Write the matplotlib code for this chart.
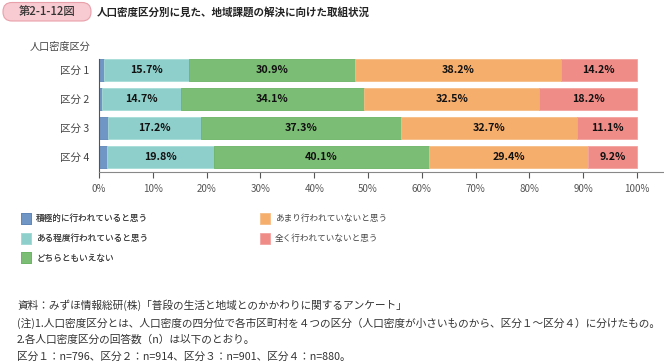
import matplotlib
matplotlib.use("Agg")
import matplotlib.pyplot as plt
from matplotlib.patches import Patch, FancyBboxPatch

plt.rcParams['font.family'] = ['Noto Sans CJK JP', 'DejaVu Sans']

categories = ["区分 1", "区分 2", "区分 3", "区分 4"]
series_names = ["積極的に行われていると思う", "ある程度行われていると思う", "どちらともいえない",
                "あまり行われていないと思う", "全く行われていないと思う"]
s_active = [1.0, 0.5, 1.7, 1.5]
s_somewhat = [15.7, 14.7, 17.2, 19.8]
s_neutral = [30.9, 34.1, 37.3, 40.1]
s_notmuch = [38.2, 32.5, 32.7, 29.4]
s_notatall = [14.2, 18.2, 11.1, 9.2]
series = [s_active, s_somewhat, s_neutral, s_notmuch, s_notatall]
colors = ["#7096c6", "#8ecfcb", "#7cbd75", "#f5ae6c", "#f08c88"]
edges = ["#5f86b8", "#a6dcd7", "#6cb465", "#f7bd86", "#f4a3a0"]
xticks = [0, 10, 20, 30, 40, 50, 60, 70, 80, 90, 100]
xticklabels = [f"{t}%" for t in xticks]

W, H = 664, 363
fig = plt.figure(figsize=(W / 100, H / 100), dpi=100)

def px(x, y):
    return x / W, 1 - y / H

# overlay axes in pixel coordinates for decorations
deco = fig.add_axes([0, 0, 1, 1])
deco.set_xlim(0, W)
deco.set_ylim(H, 0)
deco.axis("off")

# axes
ax_left, ax_top, ax_bottom = 99, 58, 172
ax_right = W
ax = fig.add_axes([ax_left / W, 1 - ax_bottom / H, (ax_right - ax_left) / W, (ax_bottom - ax_top) / H])

ypos = list(range(len(categories)))
left = [0.0] * len(categories)
for i, (vals, c, ec) in enumerate(zip(series, colors, edges)):
    bars = ax.barh(ypos, vals, left=left, height=0.75, color=c, edgecolor=ec, linewidth=0.6, zorder=2)
    if i > 0:
        for b, v in zip(bars, vals):
            ax.text(b.get_x() + b.get_width() / 2, b.get_y() + b.get_height() / 2,
                    f"{v:.1f}%", ha="center", va="center", fontsize=7.7,
                    fontweight="bold", color="#111111", zorder=3)
    left = [l + v for l, v in zip(left, vals)]

ax.set_xlim(0, 105)
ax.set_ylim(3.52, -0.4)
ax.set_xticks(xticks)
ax.set_xticklabels(xticklabels, fontsize=7, color="#555555")
ax.set_yticks(ypos)
ax.set_yticklabels(categories, fontsize=7.6, color="#444444")
ax.tick_params(axis="y", length=0, pad=7)
ax.tick_params(axis="x", length=4, width=0.8, color="#555555", pad=5, direction="out")
for s in ["top", "right"]:
    ax.spines[s].set_visible(False)
ax.spines["bottom"].set_color("#888888")
ax.spines["bottom"].set_linewidth(0.8)
ax.spines["left"].set_color("#555555")
ax.spines["left"].set_linewidth(0.8)
ax.spines["left"].set_bounds(3.52, -0.38)

# axis group label
fig.text(*px(30, 47), "人口密度区分", fontsize=7.3, color="#444444", ha="left", va="center")

# title box (pill)
box = FancyBboxPatch((3, 2.5), 88, 18.5, boxstyle="round,pad=0,rounding_size=9",
                     facecolor="#f7cbd1", edgecolor="#e8a0aa", linewidth=0.8)
deco.add_patch(box)
deco.text(47, 11.8, "第2-1-12図", fontsize=8.2, color="#333333", ha="center", va="center",
          fontweight="medium")
deco.text(97, 12, "人口密度区分別に見た、地域課題の解決に向けた取組状況", fontsize=7.6,
          color="#222222", ha="left", va="center", fontweight="bold")

# legends
handles = [Patch(facecolor=c, edgecolor=ec, linewidth=0.6) for c, ec in zip(colors, edges)]
lkw = dict(loc="upper left", frameon=False, fontsize=6.2, handlelength=1.2, handleheight=1.6,
           handletextpad=0.55, labelspacing=1.0, labelcolor="#444444", borderpad=0.2)
leg1 = fig.legend(handles[:3], series_names[:3], bbox_to_anchor=px(15, 207), **lkw)
leg2 = fig.legend(handles[3:], series_names[3:], bbox_to_anchor=px(254, 207), **lkw)
fig.add_artist(leg1)

# notes
notes = [
    "資料：みずほ情報総研(株)「普段の生活と地域とのかかわりに関するアンケート」",
    "(注)1.人口密度区分とは、人口密度の四分位で各市区町村を４つの区分（人口密度が小さいものから、区分１～区分４）に分けたもの。",
    "2.各人口密度区分の回答数（n）は以下のとおり。",
    "区分１：n=796、区分２：n=914、区分３：n=901、区分４：n=880。",
]
for yy, t in zip([305, 323, 340, 357], notes):
    deco.text(17, yy, t, fontsize=7.7, color="#333333", ha="left", va="center")

fig.savefig("out.png", dpi=100)
